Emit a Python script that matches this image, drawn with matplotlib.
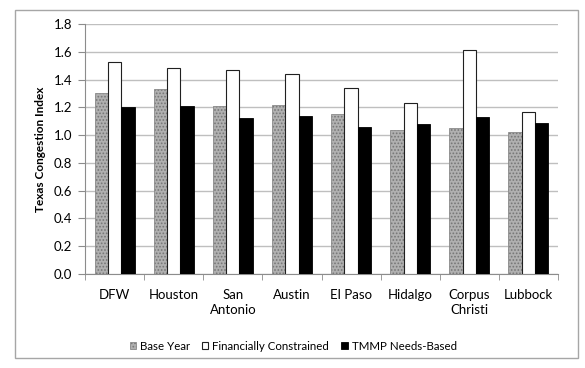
import numpy as np
import matplotlib
matplotlib.use('Agg')
import matplotlib.pyplot as plt
from matplotlib.patches import Rectangle

plt.rcParams['font.family'] = ['Lato', 'DejaVu Sans']
plt.rcParams['hatch.linewidth'] = 0.8

CITIES = ['DFW', 'Houston', 'San\nAntonio', 'Austin', 'El Paso', 'Hidalgo',
          'Corpus\nChristi', 'Lubbock']
BASE_YEAR = [1.30, 1.33, 1.21, 1.22, 1.15, 1.04, 1.05, 1.02]
FIN_CONSTRAINED = [1.53, 1.48, 1.47, 1.44, 1.34, 1.23, 1.61, 1.17]
TMMP_NEEDS = [1.20, 1.21, 1.12, 1.14, 1.06, 1.08, 1.13, 1.09]
Y_TICKS = [0.0, 0.2, 0.4, 0.6, 0.8, 1.0, 1.2, 1.4, 1.6, 1.8]

fig = plt.figure(figsize=(5.85, 3.68), dpi=100)
# outer chart border
fig.patches.append(Rectangle((15 / 585., 1 - 358 / 368.), 563 / 585., 348 / 368.,
                             transform=fig.transFigure, fill=False,
                             edgecolor='#a6a6a6', linewidth=1.0))
ax = fig.add_axes([85 / 585., 1 - 274 / 368., 473 / 585., 250 / 368.])

x = np.arange(len(CITIES))
w = 0.225
b1 = ax.bar(x - w, BASE_YEAR, w, color='#b0b0b0', edgecolor='#8a8a8a',
            hatch='.....', linewidth=0.6, label='Base Year', zorder=3)
for p in b1:
    p._hatch_color = matplotlib.colors.to_rgba('#767676')
ax.bar(x, FIN_CONSTRAINED, w, color='white', edgecolor='#202020',
       linewidth=0.8, label='Financially Constrained', zorder=3)
ax.bar(x + w, TMMP_NEEDS, w, color='black', edgecolor='black',
       linewidth=0.6, label='TMMP Needs-Based', zorder=3)

ax.set_xlim(-0.5, len(CITIES) - 0.5)
ax.set_ylim(0, 1.8)
ax.set_yticks(Y_TICKS)
ax.set_yticklabels(['%.1f' % v for v in Y_TICKS], fontsize=9.5)
ax.yaxis.grid(True, color='#bfbfbf', linewidth=1.0, zorder=0)
ax.set_axisbelow(True)

ax.set_xticks(x)
ax.set_xticklabels(CITIES, fontsize=9.5, linespacing=1.3)
ax.set_xticks(np.arange(len(CITIES) + 1) - 0.5, minor=True)
ax.tick_params(axis='x', which='major', length=0, pad=11)
ax.tick_params(axis='x', which='minor', length=4, color='#8c8c8c')
ax.tick_params(axis='y', length=5, color='#8c8c8c', pad=4)

for s in ['top', 'right']:
    ax.spines[s].set_visible(False)
for s in ['left', 'bottom']:
    ax.spines[s].set_color('#8c8c8c')

ax.set_ylabel('Texas Congestion Index', fontsize=8.5, fontweight='bold', labelpad=6)

ax.legend(loc='upper center', bbox_to_anchor=(0.44, -0.225), ncol=3,
          frameon=False, fontsize=8.3, handlelength=0.55, handleheight=0.55,
          handletextpad=0.35, columnspacing=1.05)

fig.savefig('out.png', dpi=100)
